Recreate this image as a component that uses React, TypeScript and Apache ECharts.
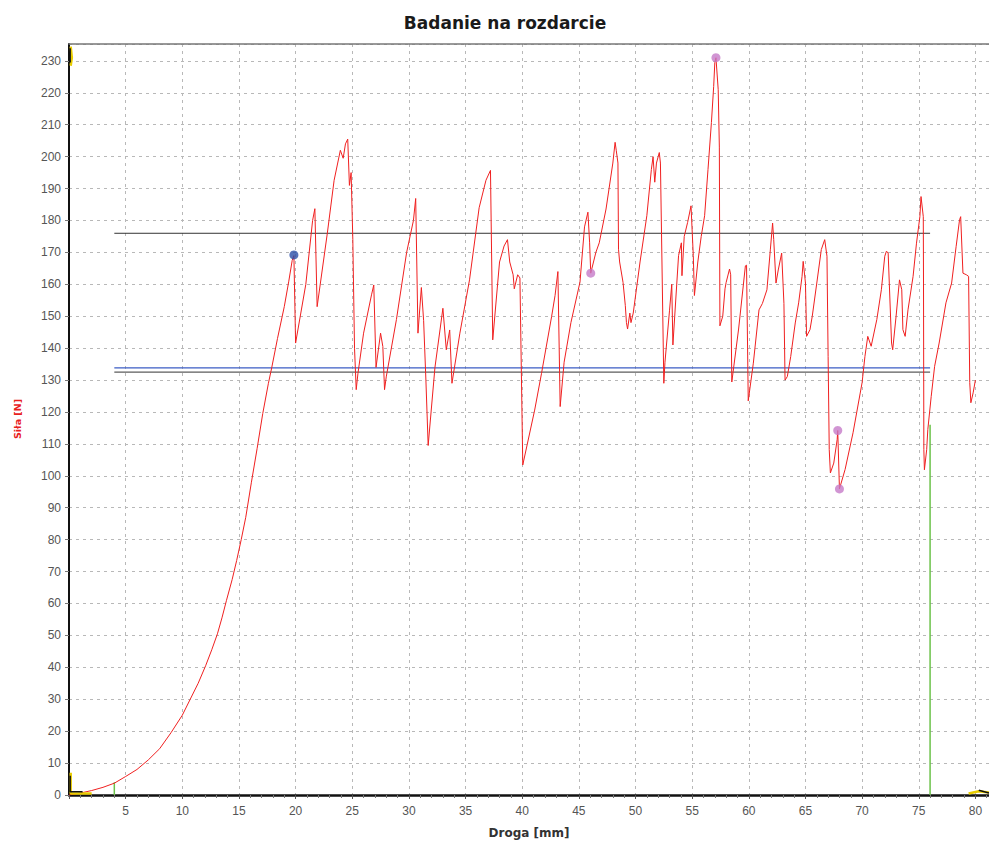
import React, { useEffect, useRef } from "react";
import * as echarts from "echarts";

const TITLE = "Badanie na rozdarcie";
const X_NAME = "Droga [mm]";
const Y_NAME = "Siła [N]";

// Force curve: [distance mm, force N]
const forceCurve: [number, number][] = [
  [0, 0], [1, 0.6], [2, 1.4], [3, 2.4], [4, 3.7], [5, 5.8], [6, 8], [7, 11], [8, 14.5], [9, 19.5],
  [10, 25], [10.7, 30], [11.4, 35], [12.06, 40.5], [12.6, 45.5], [13.1, 50.5], [13.5, 55.5], [13.9, 61],
  [14.4, 67.5], [14.8, 73.5], [15.2, 80], [15.6, 87], [16.1, 98], [16.6, 108.5], [17.1, 119.5],
  [17.6, 129], [17.9, 134], [18.4, 143], [19, 153], [19.4, 161], [19.7, 167.5],
  [19.85, 169], [20, 141.6], [20.9, 160], [21.5, 180], [21.7, 183.7], [21.9, 153], [22.8, 176],
  [23.4, 192.6], [23.95, 202], [24.2, 199.5], [24.4, 204], [24.6, 205.5], [24.75, 191], [24.9, 195],
  [25.05, 174], [25.2, 140], [25.35, 127], [25.5, 132], [26, 144.7], [26.7, 156.7], [26.9, 159.8],
  [27.1, 134], [27.5, 144.7], [27.7, 140.5], [27.85, 127], [28, 131], [28.9, 149], [29.8, 170],
  [30.4, 180], [30.6, 186.9], [30.8, 144.7], [31.1, 159], [31.3, 148.6], [31.5, 130], [31.7, 109.5],
  [32.3, 134], [33, 152.5], [33.3, 139.5], [33.6, 145.7], [33.8, 129], [34.5, 144.7], [35.35, 161.4],
  [36.2, 184], [36.8, 192.6], [37.2, 195.7], [37.4, 142.6], [38, 167], [38.4, 172], [38.7, 174],
  [38.9, 167], [39.2, 163], [39.3, 158.6], [39.6, 163], [39.8, 162], [40.05, 103.4], [41.1, 120.6],
  [41.7, 132], [42.6, 150], [42.9, 156.5], [43.15, 164], [43.35, 121.7], [43.7, 135.6], [44.3, 148],
  [45.1, 160.7], [45.5, 178], [45.8, 182.6], [45.95, 173], [46.05, 163.5], [46.5, 170], [46.8, 173],
  [47.4, 183.6], [48, 198], [48.2, 204.5], [48.3, 202], [48.45, 198], [48.5, 171], [48.6, 167],
  [48.9, 160.6], [49.1, 153.4], [49.2, 148], [49.3, 146], [49.5, 151], [49.6, 148], [49.8, 151],
  [50.4, 167], [51, 181.5], [51.4, 196], [51.55, 200], [51.7, 192], [51.85, 198], [52, 200],
  [52.1, 201.3], [52.2, 198], [52.5, 129], [52.6, 135.6], [53, 151.7], [53.2, 160], [53.3, 141],
  [53.8, 169], [54.05, 173], [54.1, 162.7], [54.3, 175], [54.6, 179.4], [54.9, 184.6], [55.1, 169],
  [55.2, 156.5], [55.5, 167], [55.8, 175], [56.1, 181.5], [56.4, 196], [56.7, 210.7], [56.9, 222],
  [57, 229.5], [57.1, 231], [57.3, 221], [57.4, 203], [57.45, 147], [57.7, 150], [57.9, 158.6],
  [58, 160.6], [58.3, 164.8], [58.4, 163], [58.5, 129.4], [59.1, 146], [59.7, 165.8], [59.8, 166],
  [59.95, 123.5], [60.4, 135.3], [60.9, 152], [61.2, 154], [61.6, 158.3], [61.9, 170.8], [62.1, 179.2],
  [62.2, 174], [62.4, 160.4], [62.6, 164.5], [62.9, 169.8], [63.1, 154], [63.2, 130], [63.4, 131.1],
  [63.7, 137.4], [64.1, 147.9], [64.4, 154.2], [64.7, 162.5], [64.8, 167.2], [65, 160.4], [65.1, 143.7],
  [65.4, 145.8], [65.6, 150], [66, 160.4], [66.4, 170.9], [66.7, 174], [66.9, 168.8], [67, 137.4],
  [67.1, 108.2], [67.2, 100.9], [67.5, 104], [67.8, 111.4], [67.85, 114.2], [68, 95.9], [68.5, 102],
  [69.2, 113.5], [70, 129.2], [70.25, 137.4], [70.5, 143.7], [70.8, 140.6], [71.3, 149], [71.7, 158.3],
  [72, 168.8], [72.15, 170.4], [72.3, 169.8], [72.4, 160.4], [72.6, 141.6], [72.7, 139.5], [73, 150],
  [73.3, 161.4], [73.5, 158.3], [73.6, 145.8], [73.8, 143.7], [74.05, 152], [74.5, 162.5], [74.8, 172.9],
  [75.1, 181.2], [75.2, 187.5], [75.4, 181.2], [75.42, 160.4], [75.45, 108.2], [75.5, 101.9], [75.7, 108.2],
  [75.8, 114.5], [76.1, 124.9], [76.4, 134.3], [76.8, 141.6], [77.4, 154.2], [77.9, 160.4], [78.3, 171.9],
  [78.6, 180.2], [78.7, 181.2], [78.9, 163.5], [79.2, 163], [79.4, 162.5], [79.5, 129.2], [79.6, 122.9],
  [79.8, 126], [80, 130],
];

const blueMarker: [number, number][] = [[19.85, 169.2]];
const purpleMarkers: [number, number][] = [[46.05, 163.5], [57.1, 231], [67.85, 114.2], [68, 95.9]];

const upperLimit: [number, number][] = [[4, 176], [76, 176]];
const blueLevel: [number, number][] = [[4, 133.8], [76, 133.8]];
const lowerLimit: [number, number][] = [[4, 132.5], [76, 132.5]];
const greenStart: [number, number][] = [[4, 0], [4, 4]];
const greenEnd: [number, number][] = [[76, 0], [76, 116]];
const cursorYellow: ([number, number] | null)[] = [
  [0.15, 234.5], [0.25, 231], [0.15, 228.5], null,
  [0.15, 7], [0.15, 0.5], [2, 0.5], null,
  [79.4, 0.5], [80.3, 1.2], [81.2, 0.8],
];
const cursorBlack: ([number, number] | null)[] = [
  [0.1, 234], [0.1, 229.5], null,
  [0.1, 6], [0.1, 1], [1.2, 1], null,
  [80.3, 1.5], [81.2, 0.6],
];

const X_MIN = 0;
const X_MAX = 81.2;
const X_STEP = 5;
const Y_MIN = 0;
const Y_MAX = 235.3;
const Y_STEP = 10;

export default function App() {
  const ref = useRef<HTMLDivElement>(null);
  useEffect(() => {
    if (!ref.current) return;
    const chart = echarts.init(ref.current, undefined, { renderer: "svg" });
    const font = "Liberation Sans, Arial, sans-serif";
    const wide = "DejaVu Sans, Verdana, sans-serif";
    const lineSeries = (name: string, data: any[], color: string, width = 1, z = 2) => ({
      name,
      type: "line",
      data,
      showSymbol: false,
      symbol: "none",
      connectNulls: false,
      lineStyle: { color, width },
      itemStyle: { color },
      z,
    });
    chart.setOption({
      animation: false,
      backgroundColor: "#ffffff",
      title: {
        text: TITLE,
        left: 500,
        textAlign: "center",
        top: 9,
        textStyle: { fontFamily: wide, fontSize: 17, fontWeight: "bold", color: "#1a1a1a" },
      },
      grid: { left: 69, right: 0, top: 44, bottom: 50 },
      xAxis: [
        {
          type: "value",
          min: X_MIN,
          max: X_MAX,
          interval: X_STEP,
          axisLine: { show: true, lineStyle: { color: "#111", width: 2.5 } },
          axisTick: { show: true, length: 4, inside: false, lineStyle: { color: "#555" } },
          minorTick: { show: true, splitNumber: 5, length: 3, lineStyle: { color: "#777" } },
          axisLabel: {
            showMinLabel: false,
            showMaxLabel: false,
            margin: 10,
            color: "#555",
            fontFamily: font,
            fontSize: 12,
          },
          splitLine: { show: true, lineStyle: { color: "#b8b8b8", type: [3, 4], width: 1 } },
        },
        {
          type: "value",
          position: "top",
          min: X_MIN,
          max: X_MAX,
          axisLine: { show: true, lineStyle: { color: "#777", width: 1.5 } },
          axisTick: { show: false },
          axisLabel: { show: false },
          splitLine: { show: false },
        },
      ],
      yAxis: {
        type: "value",
        min: Y_MIN,
        max: Y_MAX,
        interval: Y_STEP,
        axisLine: { show: true, lineStyle: { color: "#111", width: 2 } },
        axisTick: { show: true, length: 4, lineStyle: { color: "#777" } },
        axisLabel: {
          showMaxLabel: false,
          margin: 8,
          color: "#555",
          fontFamily: font,
          fontSize: 12,
        },
        splitLine: { show: true, lineStyle: { color: "#b8b8b8", type: [3, 4], width: 1 } },
      },
      graphic: [
        {
          type: "text",
          x: 529,
          y: 833,
          style: {
            text: X_NAME,
            align: "center",
            verticalAlign: "middle",
            font: `bold 12px ${wide}`,
            fill: "#333",
          },
        },
        {
          type: "text",
          x: 17,
          y: 419,
          rotation: Math.PI / 2,
          style: {
            text: Y_NAME,
            align: "center",
            verticalAlign: "middle",
            font: `bold 9.5px ${wide}`,
            fill: "#e8201c",
          },
        },
      ],
      series: [
        lineSeries("Górna granica", upperLimit, "#333333", 1, 3),
        lineSeries("Średnia", blueLevel, "#3b5cc4", 1.2, 3),
        lineSeries("Dolna granica", lowerLimit, "#333333", 1, 3),
        lineSeries("Start", greenStart, "#6cc24a", 1.5, 3),
        lineSeries("Koniec", greenEnd, "#6cc24a", 1.5, 3),
        lineSeries("Siła", forceCurve, "#f02020", 1, 4),
        lineSeries("Kursor", cursorYellow, "#e8cc00", 2.5, 5),
        lineSeries("Kursor2", cursorBlack, "#111111", 1.5, 6),
        {
          name: "Punkt",
          type: "scatter",
          data: blueMarker,
          symbol: "circle",
          symbolSize: 9,
          itemStyle: { color: "#2a4fa8" },
          z: 6,
        },
        {
          name: "Ekstrema",
          type: "scatter",
          data: purpleMarkers,
          symbol: "circle",
          symbolSize: 9,
          itemStyle: { color: "#c57ac8" },
          z: 6,
        },
      ],
    });
    return () => chart.dispose();
  }, []);
  return (
    <div
      ref={ref}
      style={{ position: "fixed", left: 0, top: 0, width: 989, height: 845, background: "#fff" }}
    />
  );
}
